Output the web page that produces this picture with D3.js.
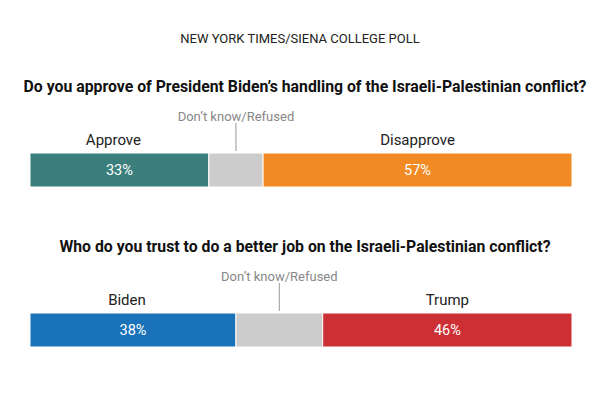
<!DOCTYPE html>
<html><head><meta charset="utf-8">
<script src="https://cdn.jsdelivr.net/npm/d3@7"></script>
<style>body{margin:0;background:#fff}</style>
</head><body>
<svg id="c" width="600" height="400"></svg>
<script>
var questions = ["Do you approve of President Biden’s handling of the Israeli-Palestinian conflict?",
  "Who do you trust to do a better job on the Israeli-Palestinian conflict?"];
var labels1 = ["Approve", "Don’t know/Refused", "Disapprove"];
var values1 = [33, 10, 57];
var labels2 = ["Biden", "Don’t know/Refused", "Trump"];
var values2 = [38, 16, 46];
var colors1 = ["#3b7f7d", "#cccccc", "#f28a24"];
var colors2 = ["#1a73b8", "#cccccc", "#cd3034"];

var svg = d3.select("#c");
var x = d3.scaleLinear().domain([0, 100]).range([30, 572]);

svg.append("text").attr("x", 300).attr("y", 43).attr("text-anchor", "middle")
  .attr("font-family", "Roboto, sans-serif").attr("font-size", 13).attr("fill", "#222")
  .text("NEW YORK TIMES/SIENA COLLEGE POLL");

function block(q, labels, values, colors, top) {
  svg.append("text").attr("x", 305).attr("y", top).attr("text-anchor", "middle")
    .attr("font-family", "Roboto, sans-serif").attr("font-weight", "bold").attr("font-size", 15.8)
    .attr("fill", "#111").text(q);
  var barY = top + 61, h = 34, start = 0;
  var segs = values.map(function (v, i) { var s = {v: v, s: start, l: labels[i], c: colors[i], i: i}; start += v; return s; });
  var g = svg.append("g");
  g.selectAll("rect").data(segs).enter().append("rect")
    .attr("x", d => x(d.s)).attr("y", barY).attr("width", d => x(d.s + d.v) - x(d.s)).attr("height", h)
    .attr("fill", d => d.c).attr("stroke", "#fff").attr("stroke-width", 1);
  g.selectAll("text.v").data(segs.filter(d => d.i !== 1)).enter().append("text")
    .attr("x", d => x(d.s + d.v / 2)).attr("y", barY + 22).attr("text-anchor", "middle")
    .attr("font-family", "Roboto, sans-serif").attr("font-size", 14.5).attr("fill", "#fff")
    .text(d => d.v + "%");
  g.selectAll("text.l").data(segs.filter(d => d.i !== 1)).enter().append("text")
    .attr("x", d => x(d.s + d.v / 2) - (d.i === 0 ? 6 : 0)).attr("y", barY - 8).attr("text-anchor", "middle")
    .attr("font-family", "Roboto, sans-serif").attr("font-size", 15).attr("fill", "#222")
    .text(d => d.l);
  var dk = segs[1], cx = x(dk.s + dk.v / 2);
  g.append("line").attr("x1", cx).attr("x2", cx).attr("y1", barY - 30).attr("y2", barY - 2)
    .attr("stroke", "#999").attr("stroke-width", 1);
  g.append("text").attr("x", cx).attr("y", barY - 32).attr("text-anchor", "middle")
    .attr("font-family", "Roboto, sans-serif").attr("font-size", 13).attr("fill", "#888")
    .text(dk.l);
}
block(questions[0], labels1, values1, colors1, 92);
block(questions[1], labels2, values2, colors2, 252);
</script>
</body></html>
